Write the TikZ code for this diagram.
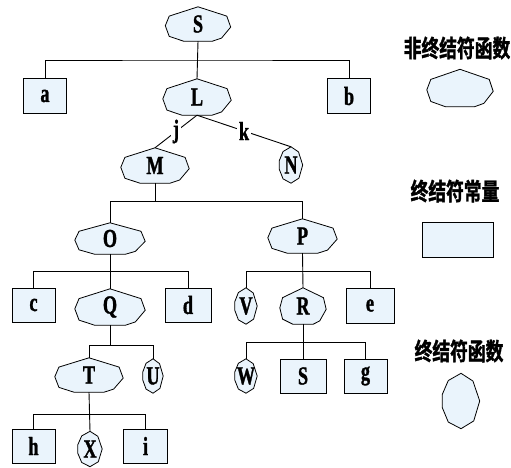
\documentclass[tikz,border=0pt]{standalone}
\usepackage{fontspec}
\setmainfont{Liberation Serif}[FakeStretch=0.70, BoldFont={Liberation Serif Bold}, BoldFeatures={FakeBold=1.2}]
\newfontfamily\cjkfont{Noto Sans CJK SC}[FakeStretch=0.74, BoldFont={Noto Sans CJK SC Bold}, BoldFeatures={FakeBold=1.5}]
\usetikzlibrary{calc,backgrounds}
\definecolor{shapefill}{RGB}{234,244,252}

% outline of a non-terminal function (flat bottom, pointed top)
\newcommand\ntpoly[1]{%
  \path[poly] let \p1=(#1.north west), \p2=(#1.south east) in
    ({\x1+0.50*(\x2-\x1)},{\y1})
 -- ({\x1+0.94*(\x2-\x1)},{\y1+0.27*(\y2-\y1)})
 -- ({\x1+1.00*(\x2-\x1)},{\y1+0.59*(\y2-\y1)})
 -- ({\x1+0.86*(\x2-\x1)},{\y1+0.91*(\y2-\y1)})
 -- ({\x1+0.72*(\x2-\x1)},{\y2})
 -- ({\x1+0.28*(\x2-\x1)},{\y2})
 -- ({\x1+0.06*(\x2-\x1)},{\y1+0.86*(\y2-\y1)})
 -- ({\x1},{\y1+0.55*(\y2-\y1)})
 -- ({\x1+0.06*(\x2-\x1)},{\y1+0.27*(\y2-\y1)}) -- cycle;}
% outline of a terminal function (upright octagon)
\newcommand\tfpoly[1]{%
  \path[poly] let \p1=(#1.north west), \p2=(#1.south east) in
    ({\x1+0.50*(\x2-\x1)},{\y1})
 -- ({\x1+0.82*(\x2-\x1)},{\y1+0.14*(\y2-\y1)})
 -- ({\x1+1.00*(\x2-\x1)},{\y1+0.50*(\y2-\y1)})
 -- ({\x1+0.84*(\x2-\x1)},{\y1+0.86*(\y2-\y1)})
 -- ({\x1+0.50*(\x2-\x1)},{\y2})
 -- ({\x1+0.16*(\x2-\x1)},{\y1+0.88*(\y2-\y1)})
 -- ({\x1},{\y1+0.62*(\y2-\y1)})
 -- ({\x1},{\y1+0.38*(\y2-\y1)})
 -- ({\x1+0.16*(\x2-\x1)},{\y1+0.13*(\y2-\y1)}) -- cycle;}

\tikzset{
  every node/.style={inner sep=0pt, font=\bfseries\fontsize{26}{26}\selectfont},
  sz/.style 2 args={minimum width=#1pt, minimum height=#2pt},
  tbox/.style={draw, fill=shapefill, line width=0.9pt},
  poly/.style={draw, fill=shapefill, line width=0.8pt, line join=round},
  wire/.style={line width=0.9pt},
  lab/.style={fill=white, inner sep=1.5pt},
  legend/.style={font=\cjkfont\bfseries\fontsize{24}{24}\selectfont}
}

\begin{document}
\begin{tikzpicture}[x=1pt, y=-1pt]
\useasboundingbox (0,0) rectangle (511,467);

% ---- nodes ----
\node[sz={65}{34}] (S) at (198,24) {S};
\node[tbox, sz={43}{35}] (a) at (45,96) {a};
\node[sz={68}{36}] (L) at (197,97) {L};
\node[tbox, sz={43}{35}] (b) at (349,96) {b};
\node[sz={68}{35}] (M) at (155,165.5) {M};
\node[sz={23}{36}] (N) at (291,165) {N};
\node[sz={70}{31}] (O) at (110,238.5) {O};
\node[sz={69}{34}] (P) at (302.5,236) {P};
\node[tbox, sz={43}{34}] (c) at (33.5,305) {c};
\node[sz={70}{36}] (Q) at (110,307) {Q};
\node[tbox, sz={46}{34}] (d) at (188,305) {d};
\node[sz={22}{36}] (V) at (246,306) {V};
\node[sz={46}{36}] (R) at (303,306) {R};
\node[tbox, sz={48}{35}] (e) at (370,305.5) {e};
\node[sz={68}{34}] (T) at (89,375) {T};
\node[sz={20}{34}] (U) at (153,376) {U};
\node[sz={22}{34}] (W) at (246,376) {W};
\node[tbox, sz={46}{34}] (s) at (303,376) {S};
\node[tbox, sz={43}{34}] (g) at (365.5,376) {g};
\node[tbox, sz={43}{34}] (h) at (33.5,446) {h};
\node[sz={24}{35}] (X) at (90,449) {X};
\node[tbox, sz={44}{34}] (i) at (145.5,446) {i};

% ---- legend ----
\node[legend] (t1) at (457,48) {非终结符函数};
\node[sz={66}{37}] (k1) at (460,88) {};
\node[legend] (t2) at (455,191) {终结符常量};
\node[tbox, sz={71}{35}] (k2) at (457.5,239.5) {};
\node[legend] (t3) at (459,351) {终结符函数};
\node[sz={37}{55}] (k3) at (461,401) {};

\begin{scope}[on background layer]
  \foreach \nm in {S,L,M,O,P,Q,R,T,k1} {\ntpoly{\nm}}
  \foreach \nm in {N,V,W,U,X,k3} {\tfpoly{\nm}}
\end{scope}

% ---- connectors ----
\draw[wire] (S.south) -- (L.north);
\coordinate (s1) at ($(S.south)!0.5!(L.north)$);
\draw[wire] (a.north) |- (s1) -| (b.north);

\draw[wire] (L.south) -- node[lab] {j} (M.north);
\draw[wire] (L.south) -- node[lab] {k} (N.north);

\draw[wire] (M.south) -- ++(0,18) coordinate (m1);
\draw[wire] (O.north) |- (m1) -| (P.north);

\draw[wire] (O.south) -- (Q.north);
\coordinate (o1) at ($(O.south)+(0,17)$);
\draw[wire] (c.north) |- (o1) -| (d.north);

\draw[wire] (P.south) -- (R.north);
\coordinate (p1) at ($(P.south)+(0,18)$);
\draw[wire] (V.north) |- (p1) -| (e.north);

\draw[wire] (Q.south) -- ++(0,20) coordinate (q1);
\draw[wire] (T.north) |- (q1) -| (U.north);

\draw[wire] (R.south) -- (s.north);
\coordinate (r1) at ($(R.south)+(0,18)$);
\draw[wire] (W.north) |- (r1) -| (g.north);

\draw[wire] (T.south) -- (X.north);
\coordinate (t1c) at ($(T.south)+(0,22)$);
\draw[wire] (h.north) |- (t1c) -| (i.north);
\end{tikzpicture}
\end{document}
